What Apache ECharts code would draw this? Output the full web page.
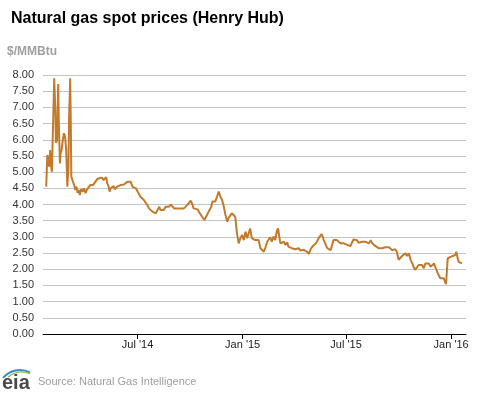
<!DOCTYPE html>
<html><head><meta charset="utf-8">
<script src="https://cdn.jsdelivr.net/npm/echarts@6/dist/echarts.min.js"></script>
<style>html,body{margin:0;padding:0;background:#fff}#c{width:477px;height:393px}</style>
</head><body><div id="c"></div>
<script>
const titleText = 'Natural gas spot prices (Henry Hub)';
const unitText = '$/MMBtu';
const sourceText = 'Source: Natural Gas Intelligence';
const logoText = 'eia';

const dates = [
'2014-01-22','2014-01-24','2014-01-26','2014-01-27','2014-01-29','2014-01-30','2014-02-01','2014-02-03','2014-02-05','2014-02-07',
'2014-02-08','2014-02-10','2014-02-12','2014-02-13','2014-02-15','2014-02-16','2014-02-18','2014-02-20','2014-02-22','2014-02-24',
'2014-02-26','2014-02-28','2014-03-02','2014-03-03','2014-03-05','2014-03-06','2014-03-07','2014-03-10','2014-03-12','2014-03-14',
'2014-03-16','2014-03-18','2014-03-20','2014-03-22','2014-03-24','2014-03-27','2014-03-29','2014-04-01','2014-04-03','2014-04-06',
'2014-04-09','2014-04-11','2014-04-14','2014-04-16','2014-04-18','2014-04-21','2014-04-23','2014-04-25','2014-04-28','2014-04-30',
'2014-05-02','2014-05-05','2014-05-07','2014-05-09','2014-05-11','2014-05-13','2014-05-15','2014-05-18','2014-05-20','2014-05-22',
'2014-05-26','2014-05-29','2014-06-01','2014-06-04','2014-06-07','2014-06-10','2014-06-13','2014-06-16','2014-06-19','2014-06-22',
'2014-06-25','2014-06-28','2014-07-01','2014-07-03','2014-07-06','2014-07-09','2014-07-12','2014-07-15','2014-07-18','2014-07-21',
'2014-07-24','2014-07-27','2014-07-30','2014-08-02','2014-08-05','2014-08-08','2014-08-10','2014-08-13','2014-08-16','2014-08-19',
'2014-08-22','2014-08-25','2014-08-28','2014-08-31','2014-09-03','2014-09-06','2014-09-09','2014-09-12','2014-09-14','2014-09-17',
'2014-09-20','2014-09-23','2014-09-26','2014-09-29','2014-10-02','2014-10-05','2014-10-07','2014-10-14','2014-10-18','2014-10-22',
'2014-10-26','2014-10-29','2014-11-01','2014-11-04','2014-11-07','2014-11-09','2014-11-11','2014-11-14','2014-11-17','2014-11-20',
'2014-11-23','2014-11-26','2014-11-29','2014-12-02','2014-12-05','2014-12-07','2014-12-10','2014-12-13','2014-12-16','2014-12-19',
'2014-12-22','2014-12-25','2014-12-28','2014-12-31','2015-01-03','2015-01-06','2015-01-09','2015-01-11','2015-01-14','2015-01-17',
'2015-01-20','2015-01-23','2015-01-26','2015-01-29','2015-02-01','2015-02-04','2015-02-07','2015-02-10','2015-02-13','2015-02-15',
'2015-02-18','2015-02-21','2015-02-24','2015-02-27','2015-03-02','2015-03-04','2015-03-06','2015-03-08','2015-03-11','2015-03-14',
'2015-03-17','2015-03-20','2015-03-22','2015-03-25','2015-03-28','2015-03-31','2015-04-03','2015-04-06','2015-04-09','2015-04-12',
'2015-04-15','2015-04-18','2015-04-21','2015-04-24','2015-04-27','2015-04-30','2015-05-03','2015-05-05','2015-05-08','2015-05-11',
'2015-05-14','2015-05-17','2015-05-19','2015-05-21','2015-05-23','2015-05-26','2015-05-29','2015-06-01','2015-06-04','2015-06-06',
'2015-06-09','2015-06-12','2015-06-15','2015-06-18','2015-06-21','2015-06-24','2015-06-27','2015-06-30','2015-07-03','2015-07-06',
'2015-07-09','2015-07-12','2015-07-14','2015-07-17','2015-07-20','2015-07-23','2015-07-26','2015-07-29','2015-08-01','2015-08-04',
'2015-08-07','2015-08-10','2015-08-13','2015-08-16','2015-08-18','2015-08-21','2015-08-24','2015-08-27','2015-08-30','2015-09-02',
'2015-09-05','2015-09-08','2015-09-11','2015-09-14','2015-09-17','2015-09-20','2015-09-22','2015-09-25','2015-09-28','2015-10-01',
'2015-10-04','2015-10-07','2015-10-10','2015-10-13','2015-10-16','2015-10-19','2015-10-22','2015-10-25','2015-10-27','2015-10-30',
'2015-11-02','2015-11-05','2015-11-08','2015-11-11','2015-11-14','2015-11-17','2015-11-20','2015-11-23','2015-11-26','2015-11-29',
'2015-12-02','2015-12-04','2015-12-07','2015-12-10','2015-12-13','2015-12-16','2015-12-19','2015-12-22','2015-12-23','2015-12-26',
'2015-12-29','2016-01-01','2016-01-04','2016-01-08','2016-01-10','2016-01-13','2016-01-14','2016-01-17','2016-01-20'
];
const prices = [
4.55,5.53,5.50,5.17,5.68,5.27,5.01,5.01,7.90,6.92,
5.90,5.99,7.72,6.61,5.27,5.58,5.68,5.99,6.20,6.10,
5.68,4.55,5.17,6.61,7.90,6.61,4.86,4.70,4.60,4.45,
4.55,4.36,4.45,4.29,4.47,4.40,4.50,4.35,4.45,4.50,
4.60,4.65,4.60,4.65,4.70,4.78,4.72,4.81,4.75,4.83,
4.75,4.81,4.84,4.65,4.57,4.40,4.50,4.45,4.57,4.47,
4.55,4.50,4.60,4.55,4.62,4.65,4.70,4.68,4.70,4.55,
4.60,4.50,4.40,4.35,4.24,4.24,4.14,4.09,3.98,3.88,
3.83,3.78,3.78,3.73,3.78,3.93,3.83,3.88,3.83,3.93,
3.88,3.93,4.00,3.98,3.88,3.93,3.88,3.93,3.88,3.93,
3.88,3.93,3.98,3.98,4.12,4.00,3.88,3.85,3.73,3.62,
3.52,3.57,3.73,3.67,3.93,4.09,4.14,4.09,4.24,4.40,
4.24,4.14,3.93,3.67,3.47,3.57,3.55,3.73,3.67,3.62,
3.11,2.80,2.96,3.06,2.90,3.16,2.96,2.90,3.26,2.96,
2.96,2.90,2.96,2.90,2.65,2.62,2.54,2.68,2.85,2.90,
2.99,2.85,3.01,2.90,3.19,3.26,3.01,2.80,2.75,2.85,
2.75,2.83,2.70,2.75,2.65,2.68,2.62,2.60,2.65,2.58,
2.62,2.60,2.62,2.54,2.47,2.62,2.70,2.75,2.78,2.85,
2.96,2.99,3.09,3.01,2.90,2.85,2.65,2.62,2.59,2.65,
2.90,2.85,2.90,2.85,2.80,2.80,2.80,2.80,2.75,2.75,
2.72,2.85,2.92,2.88,2.90,2.82,2.88,2.85,2.80,2.85,
2.82,2.80,2.90,2.80,2.75,2.72,2.68,2.65,2.70,2.65,
2.70,2.68,2.72,2.68,2.65,2.59,2.59,2.62,2.54,2.29,
2.34,2.41,2.39,2.49,2.41,2.49,2.29,2.18,2.08,1.98,
1.93,2.13,2.18,2.13,2.03,2.18,2.15,2.18,2.08,2.13,
2.18,2.08,2.03,1.82,1.72,1.69,1.72,1.67,1.54,2.34,
2.34,2.39,2.41,2.44,2.54,2.30,2.23,2.23,2.18
];
const xTickDates = ['2014-07-01','2015-01-01','2015-07-01','2016-01-01'];
const xTickLabels = ["Jul '14","Jan '15","Jul '15","Jan '16"];
const xMinDate = '2014-01-16';
const xMaxDate = '2016-01-27';
const yMin = 0, yMax = 8, yStep = 0.5;

function ts(s){const p=s.split('-');return Date.UTC(+p[0],+p[1]-1,+p[2]);}
const tickTs = xTickDates.map(ts);
const labelMap = {};
tickTs.forEach((t,i)=>{labelMap[t]=xTickLabels[i];});
const seriesData = dates.map((d,i)=>[ts(d),prices[i]]);

const FONT = 'Arial, "Liberation Sans", sans-serif';
const chart = echarts.init(document.getElementById('c'), null, {renderer:'canvas'});
chart.setOption({
  animation:false,
  backgroundColor:'#fff',
  title:{text:titleText,left:6,top:6,textStyle:{fontFamily:FONT,fontSize:16,fontWeight:'bold',color:'#000'}},
  grid:{left:43,right:11,top:75,bottom:59,containLabel:false},
  xAxis:{
    type:'value', min:ts(xMinDate)+0.4*86400000, max:ts(xMaxDate), scale:true,
    axisLine:{show:true,onZero:false,lineStyle:{color:'#000',width:1}},
    axisTick:{show:true,customValues:tickTs,length:5,lineStyle:{color:'#000'}},
    axisLabel:{customValues:tickTs,margin:5,fontFamily:FONT,fontSize:11,color:'#222',
      formatter:function(v){return labelMap[v]||'';}},
    splitLine:{show:false}
  },
  yAxis:{
    type:'value', min:yMin, max:yMax, interval:yStep,
    axisLine:{show:false}, axisTick:{show:false},
    axisLabel:{margin:9,fontFamily:FONT,fontSize:11,color:'#333',formatter:function(v){return v.toFixed(2);}},
    splitLine:{show:true,lineStyle:{color:'#c4c4c4',width:1}}
  },
  series:[{type:'line',data:seriesData,showSymbol:false,symbol:'none',
    lineStyle:{color:'#c47a2c',width:2},itemStyle:{color:'#c47a2c'}}],
  graphic:[
    {type:'text',left:7,top:46,style:{text:unitText,font:'bold 12px '+FONT,fill:'#a0a0a0'}},
    {type:'text',left:38,top:376,style:{text:sourceText,font:'11px '+FONT,fill:'#a0a0a0'}},
    {type:'text',left:2,top:373,style:{text:logoText,font:'bold 20px '+FONT,fill:'#4a4a4a'}},
    {type:'arc',shape:{cx:20,cy:392,r:22,startAngle:-Math.PI*0.78,endAngle:-Math.PI*0.35},style:{stroke:'#3a8fc4',lineWidth:2,fill:null}},
    {type:'arc',shape:{cx:22,cy:394,r:22,startAngle:-Math.PI*0.72,endAngle:-Math.PI*0.38},style:{stroke:'#8cc04a',lineWidth:1.5,fill:null}}
  ]
});
</script></body></html>
